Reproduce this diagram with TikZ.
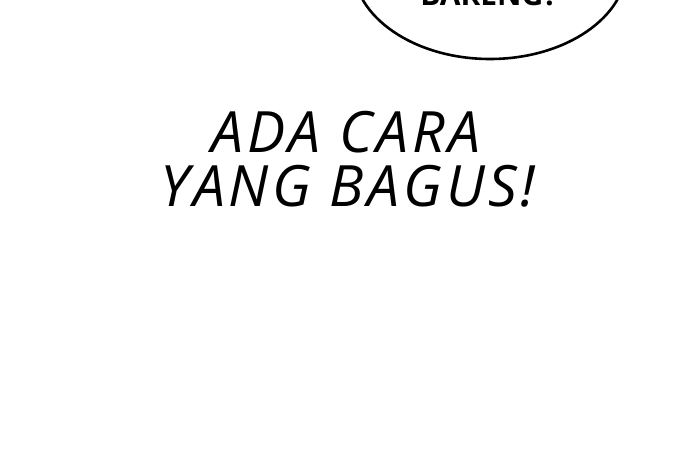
\documentclass[tikz,border=0pt]{standalone}
\usepackage{fontspec}
\setmainfont{Open Sans}
\newfontfamily\shoutfont[LetterSpace=6.5]{Open Sans}
\usetikzlibrary{positioning,shapes.geometric}
\begin{document}
\begin{tikzpicture}[x=1pt,y=1pt]
\tikzstyle{shout}=[font=\shoutfont\fontsize{57}{54}\selectfont\itshape, inner sep=0pt, anchor=base]
\tikzstyle{bubble}=[draw=black, line width=2.6pt, fill=white]
\useasboundingbox (0,0) rectangle (690,-464);
\clip (0,0) rectangle (690,-464);
\fill[white] (0,0) rectangle (690,-464);
\node[bubble, ellipse, minimum width=274, minimum height=188, inner sep=0pt] (balloon) at (490,35) {};
\node[font=\fontsize{30}{30}\selectfont\bfseries, inner sep=0pt, anchor=base] (bareng) at (489,-5) {BARENG?};
\node[shout] (line1) at (346,-152) {ADA CARA};
\node[shout] (line2) at (348,-206) {YANG BAGUS!};
\end{tikzpicture}
\end{document}
